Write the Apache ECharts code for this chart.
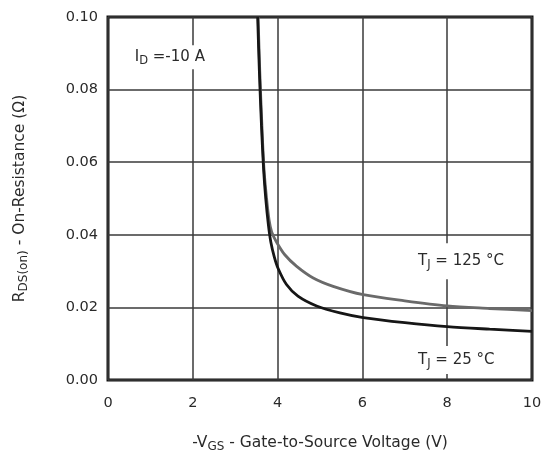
<!DOCTYPE html>
<html>
<head>
<meta charset="utf-8">
<script src="https://cdn.jsdelivr.net/npm/echarts@6/dist/echarts.min.js"></script>
<style>
  html, body { margin: 0; padding: 0; background: #fff; }
  #chart { width: 550px; height: 458px; }
</style>
</head>
<body>
<div id="chart"></div>
<script>
// Gate voltage (-V_GS, volts) and on-resistance (ohms) at T_J = 25 °C
const vgs25 = [3.53, 3.57, 3.62, 3.67, 3.72, 3.78, 3.84, 3.92, 4.01, 4.21, 4.48, 4.92, 5.47, 6.02, 7.0, 8.0, 9.0, 10.0];
const rds25 = [0.100, 0.085, 0.070, 0.058, 0.050, 0.043, 0.038, 0.034, 0.0308, 0.0263, 0.0231, 0.0204, 0.0185, 0.0172, 0.0158, 0.0147, 0.0140, 0.0134];

// Same sweep at T_J = 125 °C
const vgs125 = [3.54, 3.58, 3.63, 3.68, 3.74, 3.80, 3.86, 3.97, 4.17, 4.45, 4.84, 5.31, 6.02, 7.0, 8.0, 9.0, 10.0];
const rds125 = [0.100, 0.085, 0.070, 0.058, 0.050, 0.044, 0.0408, 0.0381, 0.0345, 0.0313, 0.0281, 0.0258, 0.0235, 0.0218, 0.0204, 0.0197, 0.0191];

// Axis ticks
const xTicks = [0, 2, 4, 6, 8, 10];
const yTicks = [0.00, 0.02, 0.04, 0.06, 0.08, 0.10];

const FONT = '"DejaVu Sans", Verdana, sans-serif';
const TEXT = '#2a2a2a';

const pairs = (xs, ys) => xs.map((x, i) => [x, ys[i]]);

// Rich text styles for subscripted labels
const richSub = {
  n: { fontSize: 15, lineHeight: 20, color: TEXT, fontFamily: FONT },
  s: { fontSize: 11.5, lineHeight: 11, verticalAlign: 'bottom', color: TEXT, fontFamily: FONT }
};
// Slightly larger variant for the axis titles
const richTitle = {
  n: { fontSize: 15.5, lineHeight: 20, color: TEXT, fontFamily: FONT },
  s: { fontSize: 12, lineHeight: 11, verticalAlign: 'bottom', color: TEXT, fontFamily: FONT }
};

function note(x, y, text, pad) {
  return {
    coord: [x, y],
    symbolSize: 0,
    label: {
      show: true,
      position: 'inside',
      align: 'left',
      verticalAlign: 'middle',
      formatter: text,
      backgroundColor: '#fff',
      padding: pad,
      rich: richSub
    }
  };
}

const chart = echarts.init(document.getElementById('chart'), null, { renderer: 'canvas' });

chart.setOption({
  animation: false,
  backgroundColor: '#fff',
  grid: {
    left: 108, right: 18, top: 17, bottom: 75,
    show: true,
    borderColor: '#111',
    borderWidth: 3,
    containLabel: false
  },
  xAxis: {
    type: 'value',
    min: xTicks[0],
    max: xTicks[xTicks.length - 1],
    interval: 2,
    axisLine: { show: false },
    axisTick: { show: false },
    splitLine: { show: true, lineStyle: { color: '#3a3a3a', width: 1.5 } },
    axisLabel: { margin: 16, fontSize: 14.5, color: TEXT, fontFamily: FONT },
    name: '{n|-V}{s|GS}{n| - Gate-to-Source Voltage (V)}',
    nameLocation: 'middle',
    nameGap: 53,
    nameTextStyle: { rich: richTitle }
  },
  yAxis: {
    type: 'value',
    min: yTicks[0],
    max: yTicks[yTicks.length - 1],
    interval: 0.02,
    axisLine: { show: false },
    axisTick: { show: false },
    splitLine: { show: true, lineStyle: { color: '#3a3a3a', width: 1.5 } },
    axisLabel: {
      margin: 10, fontSize: 14.5, color: TEXT, fontFamily: FONT,
      formatter: v => v.toFixed(2)
    },
    name: '{n|R}{s|DS(on)}{n| - On-Resistance (Ω)}',
    nameLocation: 'middle',
    nameGap: 78,
    nameRotate: 90,
    nameTextStyle: { rich: richTitle }
  },
  series: [
    {
      name: 'TJ125',
      type: 'line',
      data: pairs(vgs125, rds125),
      smooth: 0.3,
      showSymbol: false,
      lineStyle: { color: '#6a6a6a', width: 2.8 },
      z: 3
    },
    {
      name: 'TJ25',
      type: 'line',
      data: pairs(vgs25, rds25),
      smooth: 0.3,
      showSymbol: false,
      lineStyle: { color: '#161616', width: 2.8 },
      z: 4,
      markPoint: {
        silent: true,
        data: [
          note(0.56, 0.0889, '{n|I}{s|D}{n| =-10 A}', [2, 3]),
          note(7.24, 0.0327, '{n|T}{s|J}{n| = 125 °C}', [8, 3]),
          note(7.24, 0.0055, '{n|T}{s|J}{n| = 25 °C}', [4, 3])
        ]
      }
    }
  ]
});
</script>
</body>
</html>
